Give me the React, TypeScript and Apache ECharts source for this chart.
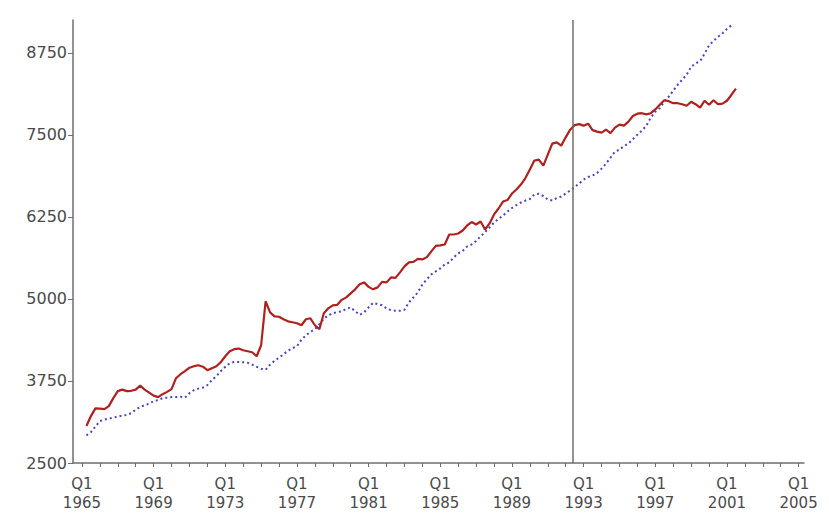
import React, { useEffect, useRef } from "react";
import * as echarts from "echarts";

// First quarter of the data (1965 Q2) as a fractional year; one step = one quarter
const firstQuarter = 1965.25;

// Red solid series (quarterly values, 1965 Q2 .. 2001 Q3)
const actualSeries: number[] = [
  3063, 3215, 3332,
  3329, 3321, 3367, 3488,
  3595, 3618, 3595, 3600,
  3618, 3679, 3618, 3572,
  3526, 3504, 3549, 3584,
  3625, 3792, 3853, 3899,
  3952, 3975, 3990, 3967,
  3914, 3945, 3975, 4036,
  4127, 4203, 4234, 4244,
  4218, 4203, 4188, 4127,
  4294, 4964, 4796, 4735,
  4728, 4690, 4659, 4644,
  4629, 4599, 4690, 4705,
  4599, 4538, 4781, 4857,
  4903, 4910, 4986, 5024,
  5085, 5146, 5222, 5252,
  5184, 5146, 5176, 5260,
  5252, 5328, 5321, 5404,
  5496, 5557, 5564, 5610,
  5602, 5637, 5724, 5808,
  5815, 5830, 5982, 5982,
  5997, 6043, 6119, 6172,
  6134, 6180, 6058, 6150,
  6287, 6378, 6484, 6507,
  6606, 6667, 6743, 6842,
  6971, 7108, 7123, 7032,
  7199, 7366, 7386, 7336,
  7462, 7579, 7648, 7663,
  7640, 7670, 7572, 7549,
  7533, 7579, 7526, 7610,
  7655, 7640, 7701, 7788,
  7823, 7830, 7812, 7830,
  7888, 7959, 8028, 8013,
  7982, 7982, 7967, 7944,
  8005, 7967, 7914, 8020,
  7959, 8028, 7967, 7975,
  8020, 8111, 8203,
];

// Blue dotted series (quarterly values, 1965 Q2 .. 2001 Q2)
const trendSeries: number[] = [
  2921, 2971, 3055,
  3139, 3161, 3177, 3192,
  3207, 3222, 3230, 3260,
  3314, 3352, 3382, 3405,
  3443, 3458, 3488, 3496,
  3504, 3504, 3508, 3496,
  3564, 3610, 3633, 3648,
  3686, 3762, 3823, 3899,
  3967, 4021, 4040, 4040,
  4036, 4028, 3998, 3967,
  3937, 3922, 3998, 4059,
  4104, 4158, 4211, 4249,
  4279, 4378, 4447, 4497,
  4538, 4614, 4697, 4751,
  4781, 4801, 4811, 4849,
  4872, 4811, 4758, 4796,
  4872, 4941, 4922, 4903,
  4857, 4827, 4819, 4819,
  4834, 4948, 5024, 5100,
  5222, 5298, 5374, 5420,
  5465, 5526, 5557, 5633,
  5694, 5732, 5800, 5830,
  5884, 5952, 6020, 6089,
  6165, 6218, 6271, 6332,
  6385, 6431, 6469, 6499,
  6522, 6591, 6601, 6568,
  6515, 6499, 6537, 6560,
  6606, 6652, 6705, 6758,
  6819, 6857, 6880, 6918,
  6986, 7062, 7153, 7245,
  7275, 7328, 7366, 7435,
  7503, 7564, 7640, 7762,
  7853, 7906, 8005, 8081,
  8172, 8263, 8340, 8416,
  8537, 8590, 8621, 8735,
  8864, 8932, 8993, 9047,
  9115, 9168,
];

// Axis ticks and labels
const yTickValues: number[] = [2500, 3750, 5000, 6250, 7500, 8750];
const xLabelYears: number[] = [1965, 1969, 1973, 1977, 1981, 1985, 1989, 1993, 1997, 2001, 2005];
const xTickFirstYear = 1965;
const xTickLastYear = 2005;

// Vertical reference line position (fractional year)
const breakPoint = 1992.375;

const toPairs = (vals: number[]) => vals.map((v, i) => [firstQuarter + i * 0.25, v]);

export default function App() {
  const ref = useRef<HTMLDivElement>(null);

  useEffect(() => {
    if (!ref.current) return;
    const chart = echarts.init(ref.current, null, { renderer: "svg" });
    const xTickYears: number[] = [];
    for (let y = xTickFirstYear; y <= xTickLastYear; y++) xTickYears.push(y);

    const axisColor = "#6e6e6e";
    const labelColor = "#4a4a4a";

    chart.setOption({
      animation: false,
      backgroundColor: "#ffffff",
      grid: { left: 73, right: 25, top: 20, bottom: 51, containLabel: false },
      xAxis: {
        type: "value",
        min: 1964.5,
        max: 2005.3,
        splitLine: { show: false },
        axisLine: { show: true, lineStyle: { color: axisColor, width: 1.5 } },
        axisTick: {
          show: true,
          length: 4,
          customValues: xTickYears,
          lineStyle: { color: axisColor, width: 1 },
        },
        axisLabel: {
          customValues: xLabelYears,
          formatter: (v: number) => `Q1\n${v}`,
          color: labelColor,
          fontFamily: "DejaVu Sans",
          fontSize: 15,
          lineHeight: 19,
          margin: 11,
        },
      },
      yAxis: {
        type: "value",
        min: 2500,
        max: 9250,
        splitLine: { show: false },
        axisLine: { show: true, lineStyle: { color: axisColor, width: 1.5 } },
        axisTick: {
          show: true,
          length: 5,
          customValues: yTickValues,
          lineStyle: { color: axisColor, width: 1 },
        },
        axisLabel: {
          customValues: yTickValues,
          formatter: (v: number) => String(v),
          color: labelColor,
          fontFamily: "DejaVu Sans",
          fontSize: 16,
          margin: 6,
        },
      },
      series: [
        {
          type: "line",
          name: "trend",
          data: toPairs(trendSeries),
          showSymbol: false,
          symbol: "none",
          lineStyle: { color: "#4646c4", width: 2, type: [2, 3] },
          z: 2,
        },
        {
          type: "line",
          name: "actual",
          data: toPairs(actualSeries),
          showSymbol: false,
          symbol: "none",
          lineStyle: { color: "#b0201e", width: 2.2 },
          z: 3,
          markLine: {
            silent: true,
            symbol: "none",
            label: { show: false },
            lineStyle: { color: "#6e6e6e", width: 1.5, type: "solid" },
            data: [{ xAxis: breakPoint }],
          },
        },
      ],
    });
    return () => chart.dispose();
  }, []);

  return (
    <div
      ref={ref}
      style={{ position: "fixed", left: 0, top: 0, width: 829, height: 514 }}
    />
  );
}
